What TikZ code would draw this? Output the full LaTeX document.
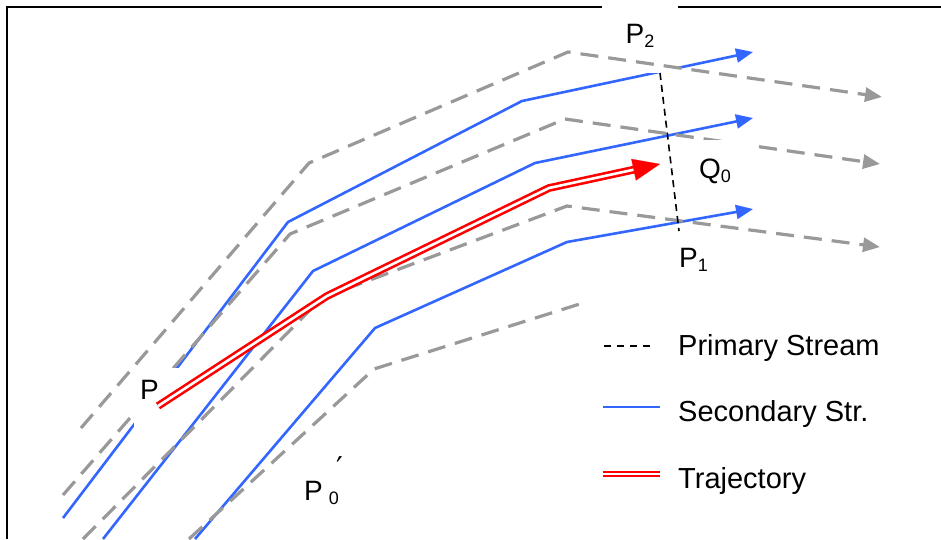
\documentclass[tikz,border=0pt]{standalone}
\usepackage{fontspec}
\setmainfont{Liberation Sans}
\newfontfamily\symfont{DejaVu Sans}
\usetikzlibrary{arrows.meta,calc}
\definecolor{secblue}{RGB}{51,102,255}
\definecolor{fangray}{RGB}{153,153,153}
\newcommand{\sbs}[1]{\raisebox{-4pt}{\fontsize{18}{18}\selectfont #1}}
\tikzset{
  secline/.style={secblue, line width=2.6pt},
  guide/.style={fangray, line width=3.2pt, dash pattern=on 18pt off 10pt},
  primline/.style={black, line width=1.6pt, dash pattern=on 7pt off 5pt},
  traj/.style={red, line width=2.6pt, double=white, double distance=2.6pt},
  lbl/.style={font=\fontsize{28}{32}\selectfont, inner sep=0pt},
  leg/.style={font=\fontsize{29}{34}\selectfont, inner sep=0pt, anchor=base west},
  tip/.style={-{Triangle[length=17pt,width=14pt]}},
  frame/.style={black, line width=2.4pt}
}
\begin{document}
\begin{tikzpicture}[x=1pt, y=-1pt]
    \useasboundingbox (0,0) rectangle (941,539);
    % secondary streams
    \draw[secline, tip] (63,518) -- (288,222) -- (522,101) -- (753,52);
    \draw[secline, tip] (103,539) -- (313,271) -- (535,163) -- (753,118);
    \draw[secline, tip] (195,539) -- (375,328) -- (567,242) -- (753,209);
    \node[lbl, fill=white, minimum width=76pt, minimum height=74pt,
          text height=20pt, text depth=6pt] (p2) at (640,36) {P\sbs{2}};
    % gray guides
    \draw[guide, tip] (81,428) -- (309,163) -- (568,52) -- (882,97);
    \draw[guide, tip] (63,495) -- (290,234) -- (565,119) -- (880,164);
    \draw[guide, tip] (83,539) -- (322,298) -- (567,206) -- (880,247);
    \draw[guide] (189,539) -- (374,369) -- (586,302);
    \node[lbl, fill=white, minimum width=46pt, minimum height=62pt, inner xsep=6pt,
          text width=34pt, align=left, text height=20pt, text depth=20pt] (p) at (157,399) {P};
    \node[lbl, fill=white, minimum width=76pt, minimum height=60pt,
          text height=20pt, text depth=4pt] (q0) at (715,170) {Q\sbs{0}};
    % trajectory
    \coordinate (t0) at (158,406);
    \coordinate (t1) at (327,296);
    \coordinate (t2) at (549,188);
    \coordinate (ttip) at (660,164);
    \coordinate (tbase) at ($(ttip)!27pt!(t2)$);
    \draw[traj] (t0) -- (t1) -- (t2) -- ($(ttip)!20pt!(t2)$);
    \draw[red, line width=0.1pt, -{Triangle[length=27pt,width=22pt]}] (tbase) -- (ttip);
    % primary stream
    \coordinate (s2) at (660,73);
    \coordinate (s1) at (679,231);
    \draw[primline] (s2) -- (s1);
    \node[lbl, anchor=base west] (p1) at (679,267) {P\sbs{1}};
    \node[lbl, anchor=base west] (p0) at (304,500) {P\hspace{6pt}\sbs{0}};
    \node[font=\fontsize{30}{30}\symfont, inner sep=0pt, anchor=south] (p0prime) at (340,479) {′};
    % legend
    \draw[primline, dash pattern=on 7pt off 6pt] (604,346) -- (652,346);
    \draw[secline, line width=2pt] (603,407) -- (660,407);
    \draw[traj, line width=2.2pt, double distance=2.2pt] (603,474) -- (660,474);
    \node[leg] (leg1) at (678,355) {Primary Stream};
    \node[leg] (leg2) at (678,421) {Secondary Str.};
    \node[leg] (leg3) at (678,488) {Trajectory};
    % frame
    \draw[frame] (7,539) -- (7,7) -- (p2.west |- 0,7);
    \draw[frame] (p2.east |- 0,7) -- (941,7);
\end{tikzpicture}
\end{document}
